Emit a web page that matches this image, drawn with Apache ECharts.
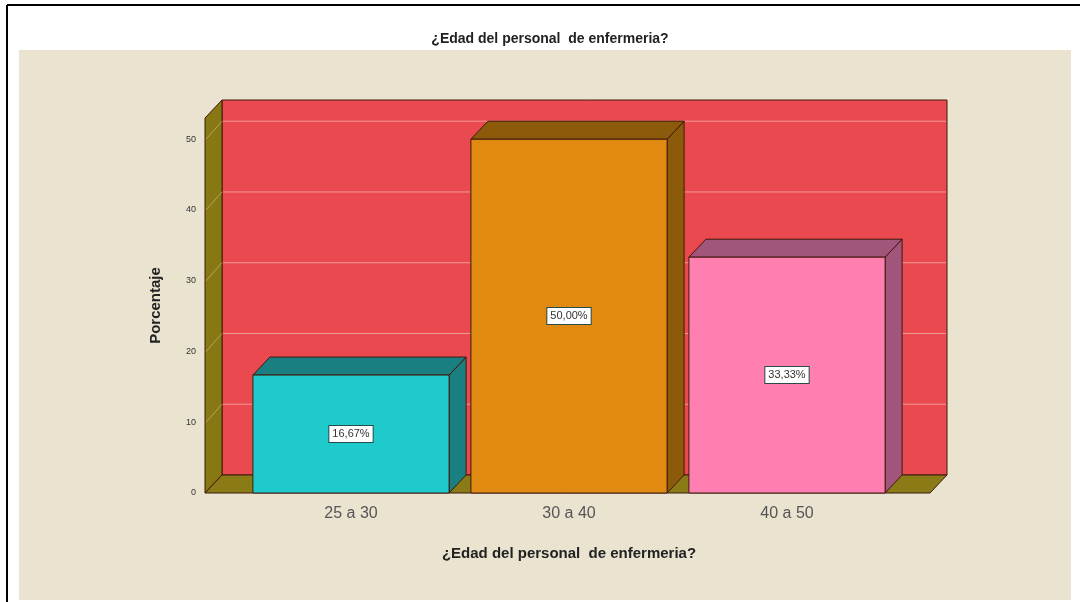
<!DOCTYPE html>
<html>
<head>
<meta charset="utf-8">
<script src="https://cdn.jsdelivr.net/npm/echarts@6/dist/echarts.min.js"></script>
<style>
html,body{margin:0;padding:0;background:#fff;}
#chart{width:1080px;height:602px;}
</style>
</head>
<body>
<div id="chart"></div>
<script>
// ---- data ----
var categories = ['25 a 30', '30 a 40', '40 a 50'];
var percentages = [16.67, 50.00, 33.33];
var yTicks = [0, 10, 20, 30, 40, 50];
var chartTitle = '¿Edad del personal  de enfermeria?';
var xAxisTitle = '¿Edad del personal  de enfermeria?';
var yAxisTitle = 'Porcentaje';

// ---- styles ----
var frontColors = ['#1FCACD', '#E08A12', '#FF80B0'];
var shadeColors = ['#1A7F80', '#8B5A0A', '#A2557A'];
var DX = 17, DY = 18, PAD_L = 37, PAD_R = 34;
var outline = '#3E1A0C';

var chart = echarts.init(document.getElementById('chart'), null, {renderer: 'canvas'});

function fmt(v) { return v.toFixed(2).replace('.', ',') + '%'; }

var option = {
  animation: false,
  backgroundColor: '#ffffff',
  graphic: [
    {type: 'rect', z: -10, shape: {x: 19, y: 50, width: 1052, height: 550}, style: {fill: '#E9E3D0'}},
    {type: 'line', z: -9, shape: {x1: 7, y1: 5, x2: 1080, y2: 5}, style: {stroke: '#000', lineWidth: 2}},
    {type: 'line', z: -9, shape: {x1: 7, y1: 5, x2: 7, y2: 602}, style: {stroke: '#000', lineWidth: 2}}
  ],
  title: {
    text: chartTitle,
    left: 545, textAlign: 'center',
    top: 27,
    textStyle: {fontFamily: 'Liberation Sans, Arial, sans-serif', fontSize: 14, fontWeight: 'bold', color: '#222'}
  },
  grid: {left: 242, right: 184, top: 118, bottom: 109, containLabel: false},
  xAxis: {
    type: 'category',
    data: categories,
    axisLine: {show: false},
    axisTick: {show: false},
    axisLabel: {margin: 13, fontFamily: 'Liberation Sans, Arial, sans-serif', fontSize: 16, color: '#555'},
    name: xAxisTitle,
    nameLocation: 'middle',
    nameGap: 53,
    nameTextStyle: {fontFamily: 'Liberation Sans, Arial, sans-serif', fontSize: 15, fontWeight: 'bold', color: '#222'}
  },
  yAxis: {
    type: 'value',
    min: 0, max: 53, interval: 10,
    axisLine: {show: false},
    axisTick: {show: false},
    splitLine: {show: false},
    axisLabel: {
      margin: 46, fontFamily: 'Liberation Sans, Arial, sans-serif', fontSize: 9, color: '#333',
      formatter: function (v) { return yTicks.indexOf(v) >= 0 ? String(v) : ''; }
    },
    name: yAxisTitle,
    nameLocation: 'middle',
    nameGap: 79,
    nameRotate: 90,
    nameTextStyle: {fontFamily: 'Liberation Sans, Arial, sans-serif', fontSize: 15, fontWeight: 'bold', color: '#222'}
  },
  series: [
    {
      type: 'custom',
      z: 1,
      silent: true,
      data: [0],
      renderItem: function (params, api) {
        var cs = params.coordSys;
        var L = cs.x - PAD_L, R = cs.x + cs.width + PAD_R;
        var y0 = api.coord([0, 0])[1];
        var yT = cs.y;
        var children = [];
        children.push({type: 'rect', shape: {x: L + DX, y: yT - DY, width: R - L, height: y0 - yT},
          style: {fill: '#EA4A4F', stroke: outline, lineWidth: 1}});
        children.push({type: 'polygon', shape: {points: [[L, yT], [L + DX, yT - DY], [L + DX, y0 - DY], [L, y0]]},
          style: {fill: '#877814', stroke: outline, lineWidth: 1}});
        children.push({type: 'polygon', shape: {points: [[L, y0], [L + DX, y0 - DY], [R + DX, y0 - DY], [R, y0]]},
          style: {fill: '#8A7B16', stroke: outline, lineWidth: 1}});
        yTicks.forEach(function (v) {
          if (v === 0) return;
          var y = api.coord([0, v])[1];
          children.push({type: 'line', shape: {x1: L + DX + 1, y1: y - DY, x2: R + DX - 1, y2: y - DY},
            style: {stroke: '#F29A96', lineWidth: 1}});
          children.push({type: 'line', shape: {x1: L + 1, y1: y, x2: L + DX, y2: y - DY},
            style: {stroke: '#B4A65A', lineWidth: 1}});
        });
        return {type: 'group', children: children};
      }
    },
    {
      type: 'custom',
      z: 2,
      data: percentages.map(function (v, i) { return [i, v]; }),
      renderItem: function (params, api) {
        var i = api.value(0), v = api.value(1);
        var p0 = api.coord([i, 0]);
        var p1 = api.coord([i, v]);
        var band = api.size([1, 0])[0];
        var w = band * 0.9;
        var x0 = p0[0] - w / 2, x1 = x0 + w;
        var yb = p0[1], yt = p1[1];
        var idx = params.dataIndex;
        return {
          type: 'group',
          children: [
            {type: 'polygon', shape: {points: [[x1, yt], [x1 + DX, yt - DY], [x1 + DX, yb - DY], [x1, yb]]},
              style: {fill: shadeColors[idx], stroke: outline, lineWidth: 1}},
            {type: 'polygon', shape: {points: [[x0, yt], [x0 + DX, yt - DY], [x1 + DX, yt - DY], [x1, yt]]},
              style: {fill: shadeColors[idx], stroke: outline, lineWidth: 1}},
            {type: 'rect', shape: {x: x0, y: yt, width: w, height: yb - yt},
              style: {fill: frontColors[idx], stroke: outline, lineWidth: 1}},
            {type: 'text', x: p0[0], y: (yt + yb) / 2,
              style: {text: fmt(v), align: 'center', verticalAlign: 'middle',
                fontFamily: 'Liberation Sans, Arial, sans-serif', fontSize: 11, fill: '#333',
                backgroundColor: '#ffffff', borderColor: '#2a4a4a', borderWidth: 1, padding: [3, 3, 2, 3]}}
          ]
        };
      }
    }
  ]
};
chart.setOption(option);
</script>
</body>
</html>
